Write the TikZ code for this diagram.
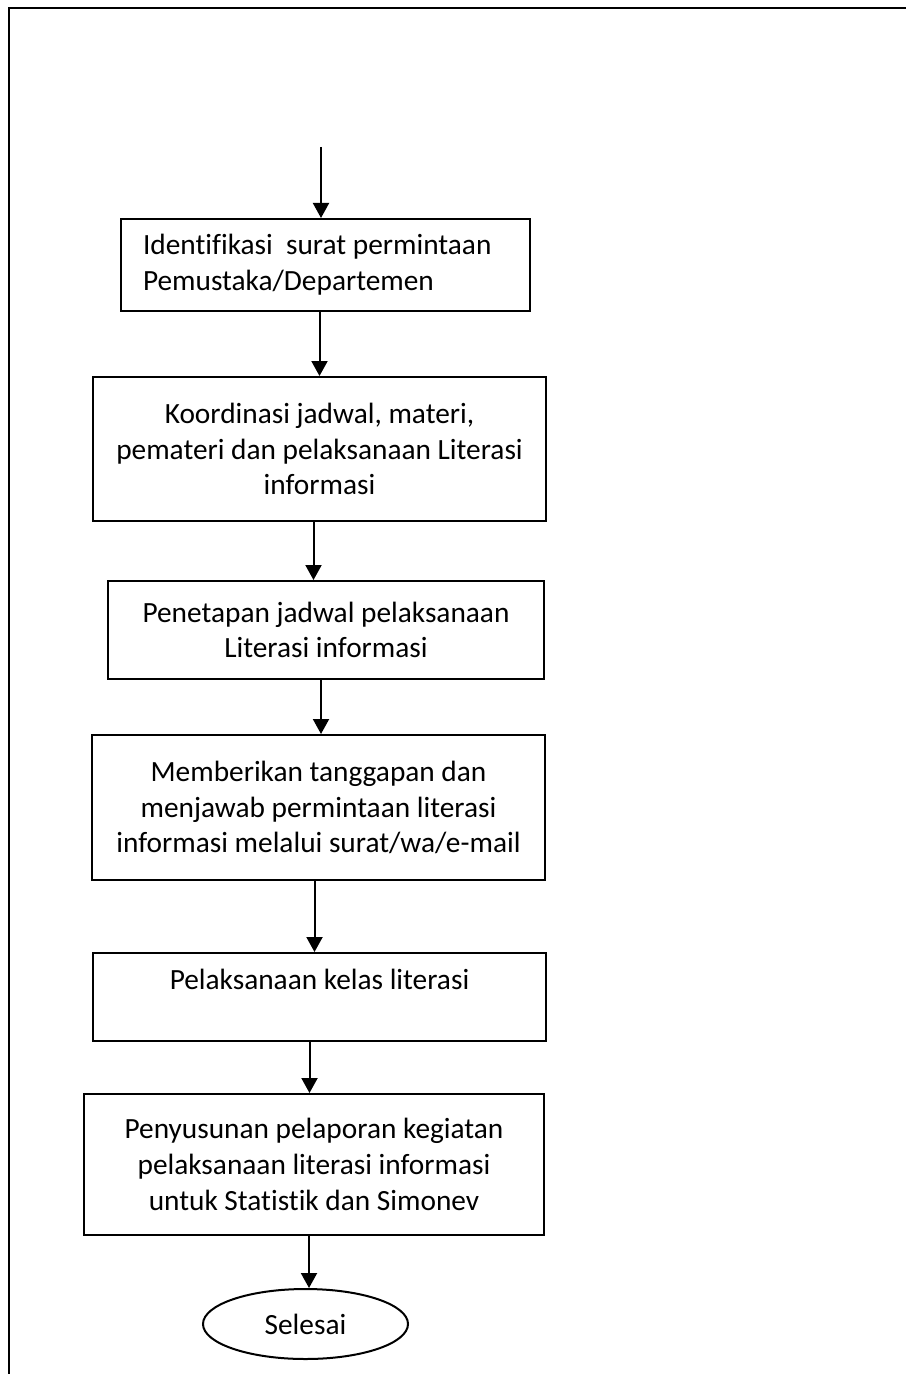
\documentclass[tikz,border=0pt]{standalone}
\usepackage{fontspec}
\setmainfont{Carlito}[Ligatures={NoCommon}]
\usetikzlibrary{arrows.meta,shapes.geometric}
\tikzset{
    flowbox/.style={draw,line width=1pt,rectangle,align=center,inner sep=0pt,font=\fontsize{14.67}{17.9}\selectfont},
    endbox/.style={draw,line width=1pt,ellipse,inner sep=0pt,font=\fontsize{14.67}{17.9}\selectfont},
    flowarrow/.style={line width=1pt,-{Triangle[length=7.5pt,width=8pt]}}
}
\begin{document}
\begin{tikzpicture}[x=0.5pt,y=-0.5pt]
    \useasboundingbox (0,0) rectangle (906,1374);
    \draw[line width=1pt] (9,1374) -- (9,8) -- (906,8);
    \node[flowbox,minimum width=204.5pt,minimum height=46pt,text width=182.5pt,align=flush left] (ident) at (325.5,265)
        {Identifikasi\ \ surat permintaan\\Pemustaka/Departemen};
    \node[flowbox,minimum width=226.5pt,minimum height=72pt] (koord) at (319.5,449)
        {Koordinasi jadwal, materi,\\pemateri dan pelaksanaan Literasi\\informasi};
    \node[flowbox,minimum width=218pt,minimum height=49pt] (penetapan) at (326,630)
        {Penetapan jadwal pelaksanaan\\Literasi informasi};
    \node[flowbox,minimum width=226.5pt,minimum height=72.5pt] (tanggapan) at (318.5,807.5)
        {Memberikan tanggapan dan\\menjawab permintaan literasi\\informasi melalui surat/wa/e-mail};
    \node[flowbox,minimum width=226.5pt,minimum height=44pt] (kelas) at (319.5,997)
        {Pelaksanaan kelas literasi\\\mbox{}};
    \node[flowbox,minimum width=230pt,minimum height=70.5pt] (laporan) at (314,1164.5)
        {Penyusunan pelaporan kegiatan\\pelaksanaan literasi informasi\\untuk Statistik dan Simonev};
    \node[endbox,minimum width=102.5pt,minimum height=35pt] (selesai) at (305.5,1324) {Selesai};
    \coordinate (start) at (321,147);
    \draw[flowarrow] (start) -- (start |- ident.north);
    \draw[flowarrow] ([xshift=-3pt]ident.south) -- ([xshift=-3pt]ident.south |- koord.north);
    \draw[flowarrow] ([xshift=-3pt]koord.south) -- ([xshift=-3pt]koord.south |- penetapan.north);
    \draw[flowarrow] ([xshift=-2.5pt]penetapan.south) -- ([xshift=-2.5pt]penetapan.south |- tanggapan.north);
    \draw[flowarrow] ([xshift=-2pt]tanggapan.south) -- ([xshift=-2pt]tanggapan.south |- kelas.north);
    \draw[flowarrow] ([xshift=-5pt]kelas.south) -- ([xshift=-5pt]kelas.south |- laporan.north);
    \draw[flowarrow] ([xshift=-2.5pt]laporan.south) -- ([xshift=-2.5pt]laporan.south |- selesai.north);
\end{tikzpicture}
\end{document}
